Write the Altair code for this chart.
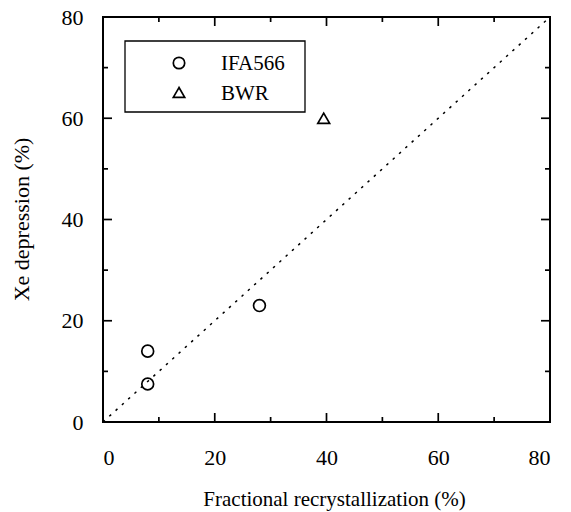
import altair as alt
import pandas as pd

# data
ifa_x = [8.0, 8.0, 28.0]
ifa_y = [14.0, 7.5, 23.0]
bwr_x = [39.5]
bwr_y = [60.0]
major_ticks = [0, 20, 40, 60, 80]
minor_ticks = [10, 30, 50, 70]
legend_labels = ["IFA566", "BWR"]

W, H = 447, 405
FONT = "Liberation Serif"
xs = alt.Scale(domain=[0, 80], nice=False, zero=False)
ys = alt.Scale(domain=[0, 80], nice=False, zero=False)

pts = pd.DataFrame({
    "x": ifa_x + bwr_x,
    "y": ifa_y + bwr_y,
    "series": ["IFA566"] * len(ifa_x) + ["BWR"] * len(bwr_x),
})

AX = alt.Axis(values=major_ticks, ticks=False, domain=False, grid=False,
              labelFont=FONT, labelFontSize=22, labelColor="black",
              labelPadding=25, title="Fractional recrystallization (%)",
              titleFont=FONT, titleFontSize=21, titleFontWeight="normal",
              titleColor="black", titleX=231, titleY=83,
              titleAlign="center", titleBaseline="alphabetic")
AY = alt.Axis(values=major_ticks, ticks=False, domain=False, grid=False,
              labelFont=FONT, labelFontSize=22, labelColor="black",
              labelPadding=20, title="Xe depression (%)",
              titleFont=FONT, titleFontSize=22, titleFontWeight="normal",
              titleColor="black", titleX=-75, titleY=202,
              titleAlign="center", titleBaseline="alphabetic", titleAngle=270)

points = alt.Chart(pts).mark_point(filled=False, size=140, strokeWidth=1.7, color="black", opacity=1).encode(
    x=alt.X("x:Q", scale=xs, axis=AX),
    y=alt.Y("y:Q", scale=ys, axis=AY),
    shape=alt.Shape("series:N", scale=alt.Scale(domain=["IFA566", "BWR"], range=["circle", "triangle-up"]), legend=None),
)

diag = alt.Chart(pd.DataFrame({"x": [0, 80], "y": [0, 80]})).mark_line(
    color="black", strokeWidth=1.5, strokeDash=[2.5, 6]).encode(
    x=alt.X("x:Q", scale=xs, axis=AX), y=alt.Y("y:Q", scale=ys, axis=AY))

one = pd.DataFrame({"a": [0]})
# frame as thin filled bars
fb = dict(color="black", fill="black", strokeWidth=0)
frame = [
    alt.Chart(one).mark_rect(**fb).encode(x=alt.value(-1), x2=alt.value(W + 1), y=alt.value(-1), y2=alt.value(1)),
    alt.Chart(one).mark_rect(**fb).encode(x=alt.value(-1), x2=alt.value(W + 1), y=alt.value(H - 1), y2=alt.value(H + 1)),
    alt.Chart(one).mark_rect(**fb).encode(x=alt.value(-1), x2=alt.value(1), y=alt.value(-1), y2=alt.value(H + 1)),
    alt.Chart(one).mark_rect(**fb).encode(x=alt.value(W - 1), x2=alt.value(W + 1), y=alt.value(-1), y2=alt.value(H + 1)),
]

ticks = pd.DataFrame({"v": major_ticks + minor_ticks,
                      "len": [9] * len(major_ticks) + [5] * len(minor_ticks)})
tick_layers = []
for L in (9, 5):
    d = ticks[ticks["len"] == L]
    c = alt.Chart(d)
    tick_layers += [
        c.mark_rule(color="black", strokeWidth=1.7).encode(x=alt.X("v:Q", scale=xs, axis=AX), y=alt.value(H), y2=alt.value(H - L)),
        c.mark_rule(color="black", strokeWidth=1.7).encode(x=alt.X("v:Q", scale=xs, axis=AX), y=alt.value(0), y2=alt.value(L)),
        c.mark_rule(color="black", strokeWidth=1.7).encode(y=alt.Y("v:Q", scale=ys, axis=AY), x=alt.value(0), x2=alt.value(L)),
        c.mark_rule(color="black", strokeWidth=1.7).encode(y=alt.Y("v:Q", scale=ys, axis=AY), x=alt.value(W), x2=alt.value(W - L)),
    ]

leg_df = pd.DataFrame({"label": legend_labels, "row": [0, 1]})
leg_box = alt.Chart(one).mark_rect(
    fill="white", stroke="black", strokeWidth=1.3).encode(
    x=alt.value(22), x2=alt.value(202), y=alt.value(24), y2=alt.value(95))
leg_c = alt.Chart(leg_df[leg_df.row == 0]).mark_point(shape="circle", filled=False, size=130, strokeWidth=1.7, color="black", opacity=1).encode(
    x=alt.value(76), y=alt.value(46))
leg_t = alt.Chart(leg_df[leg_df.row == 1]).mark_point(shape="triangle-up", filled=False, size=130, strokeWidth=1.7, color="black", opacity=1).encode(
    x=alt.value(76), y=alt.value(75.5))
leg_txt0 = alt.Chart(leg_df[leg_df.row == 0]).mark_text(align="left", baseline="middle", font=FONT, fontSize=21, color="black").encode(
    x=alt.value(118), y=alt.value(47), text="label:N")
leg_txt1 = alt.Chart(leg_df[leg_df.row == 1]).mark_text(align="left", baseline="middle", font=FONT, fontSize=21, color="black").encode(
    x=alt.value(118), y=alt.value(76.5), text="label:N")

chart = alt.layer(points, diag, *tick_layers, *frame, leg_box, leg_c, leg_t, leg_txt0, leg_txt1).properties(
    width=W, height=H,
    autosize=alt.AutoSizeParams(type="none"),
    padding={"left": 95, "top": 9, "right": 10, "bottom": 90},
).configure_view(strokeWidth=0).configure(background="white")

chart.save("out.html", embed_options={"renderer": "svg", "actions": False})
